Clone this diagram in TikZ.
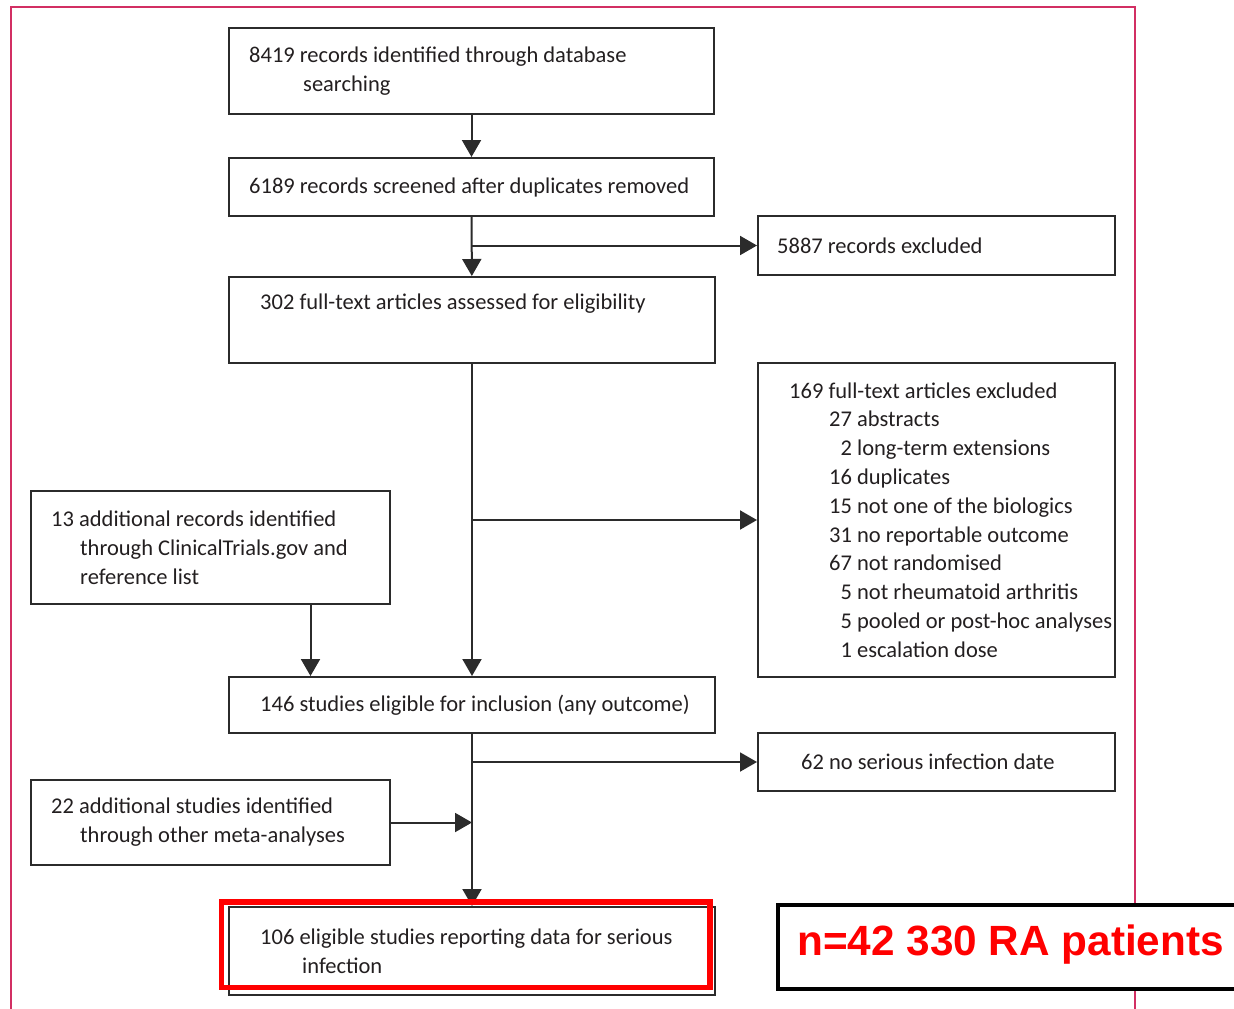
\documentclass[tikz,border=0pt]{standalone}
\usepackage{fontspec}
\setmainfont{Carlito}
\setsansfont{Liberation Sans}
\usetikzlibrary{arrows.meta,positioning,calc}
\definecolor{linegray}{HTML}{2B2B2B}
\definecolor{textgray}{HTML}{231F20}
\definecolor{framepink}{HTML}{D22F63}
\definecolor{markred}{HTML}{FF0000}

\begin{document}
\begin{tikzpicture}[x=1pt,y=-1pt,
  box/.style={draw=linegray, line width=2pt, anchor=north west, inner sep=0pt},
  txt/.style={anchor=west, align=left, inner sep=0pt, text=textgray,
    font=\fontsize{22.5}{28.8}\selectfont},
  arr/.style={draw=linegray, line width=2pt, -{Triangle[length=17pt,width=19pt]}}]
  \useasboundingbox (0,0) rectangle (1234,1009);
  % page frame
  \draw[framepink, line width=2.5pt] (11,1009) -- (11,7) -- (1135,7) -- (1135,1009);
  % main column
  \node[box, minimum width=485pt, minimum height=86pt] (records) at (228,27) {};
  \node[box, minimum width=485pt, minimum height=58pt] (screened) at (228,157) {};
  \node[box, minimum width=486pt, minimum height=86pt] (fulltext) at (228,276) {};
  \node[box, minimum width=486pt, minimum height=56pt] (eligible) at (228,676) {};
  \node[box, minimum width=486pt, minimum height=88pt] (serious) at (228,906) {};
  % side boxes
  \node[box, minimum width=357pt, minimum height=59pt] (excluded) at (757,215) {};
  \node[box, minimum width=357pt, minimum height=314pt] (ftexcl) at (757,362) {};
  \node[box, minimum width=357pt, minimum height=58pt] (noinf) at (757,732) {};
  \node[box, minimum width=359pt, minimum height=113pt] (additional) at (30,490) {};
  \node[box, minimum width=359pt, minimum height=85pt] (others) at (30,779) {};
  % texts
  \node[txt] (records-t) at ($(records.west)+(21,0)$)
    {8419 records identified through database\\\hspace*{54pt}searching};
  \node[txt] (screened-t) at ($(screened.west)+(21,0)$)
    {6189 records screened after duplicates removed};
  \node[txt] (fulltext-t) at ($(fulltext.north west)+(32,28)$)
    {302 full-text articles assessed for eligibility};
  \node[txt] (eligible-t) at ($(eligible.west)+(32,0)$)
    {146 studies eligible for inclusion (any outcome)};
  \node[txt] (serious-t) at ($(serious.west)+(32,0)$)
    {106 eligible studies reporting data for serious\\\hspace*{42pt}infection};
  \node[txt] (excluded-t) at ($(excluded.west)+(20,0)$) {5887 records excluded};
  \node[txt] (ftexcl-t) at ($(ftexcl.west)+(32,0)$)
    {169 full-text articles excluded\\
     \hspace*{40pt}27 abstracts\\
     \hspace*{40pt}\phantom{0}2 long-term extensions\\
     \hspace*{40pt}16 duplicates\\
     \hspace*{40pt}15 not one of the biologics\\
     \hspace*{40pt}31 no reportable outcome\\
     \hspace*{40pt}67 not randomised\\
     \hspace*{40pt}\phantom{0}5 not rheumatoid arthritis\\
     \hspace*{40pt}\phantom{0}5 pooled or post-hoc analyses\\
     \hspace*{40pt}\phantom{0}1 escalation dose};
  \node[txt] (noinf-t) at ($(noinf.west)+(44,0)$) {62 no serious infection date};
  \node[txt] (additional-t) at ($(additional.west)+(21,0)$)
    {13 additional records identified\\\hspace*{29pt}through ClinicalTrials.gov and\\\hspace*{29pt}reference list};
  \node[txt] (others-t) at ($(others.west)+(21,0)$)
    {22 additional studies identified\\\hspace*{29pt}through other meta-analyses};
  % connectors
  \draw[arr] (records) -- (screened);
  \draw[arr] (screened) -- (fulltext);
  \draw[arr] (screened.south |- excluded.west) -- (excluded.west);
  \draw[arr] (fulltext) -- (eligible);
  \draw[arr] (fulltext.south |- ftexcl.west) -- (ftexcl.west);
  \coordinate (additional-out) at ($(additional.south)+(100,0)$);
  \draw[arr] (additional-out) -- (additional-out |- eligible.north);
  \draw[arr] (eligible) -- (serious);
  \draw[arr] (eligible.south |- noinf.west) -- (noinf.west);
  \draw[arr] (others.east) -- (others.east -| eligible.south);
  % highlight and total
  \draw[markred, line width=5.5pt] (221.5,902) rectangle (710,987.5);
  \node[box, draw=black, fill=white, line width=4pt, minimum width=470pt, minimum height=84pt] (total) at (776,903) {};
  \node[anchor=west, inner sep=0pt, text=markred, font=\sffamily\bfseries\fontsize{42.3}{48}\selectfont]
    (total-t) at (797,945) {n=42 330 RA patients};
\end{tikzpicture}
\end{document}
